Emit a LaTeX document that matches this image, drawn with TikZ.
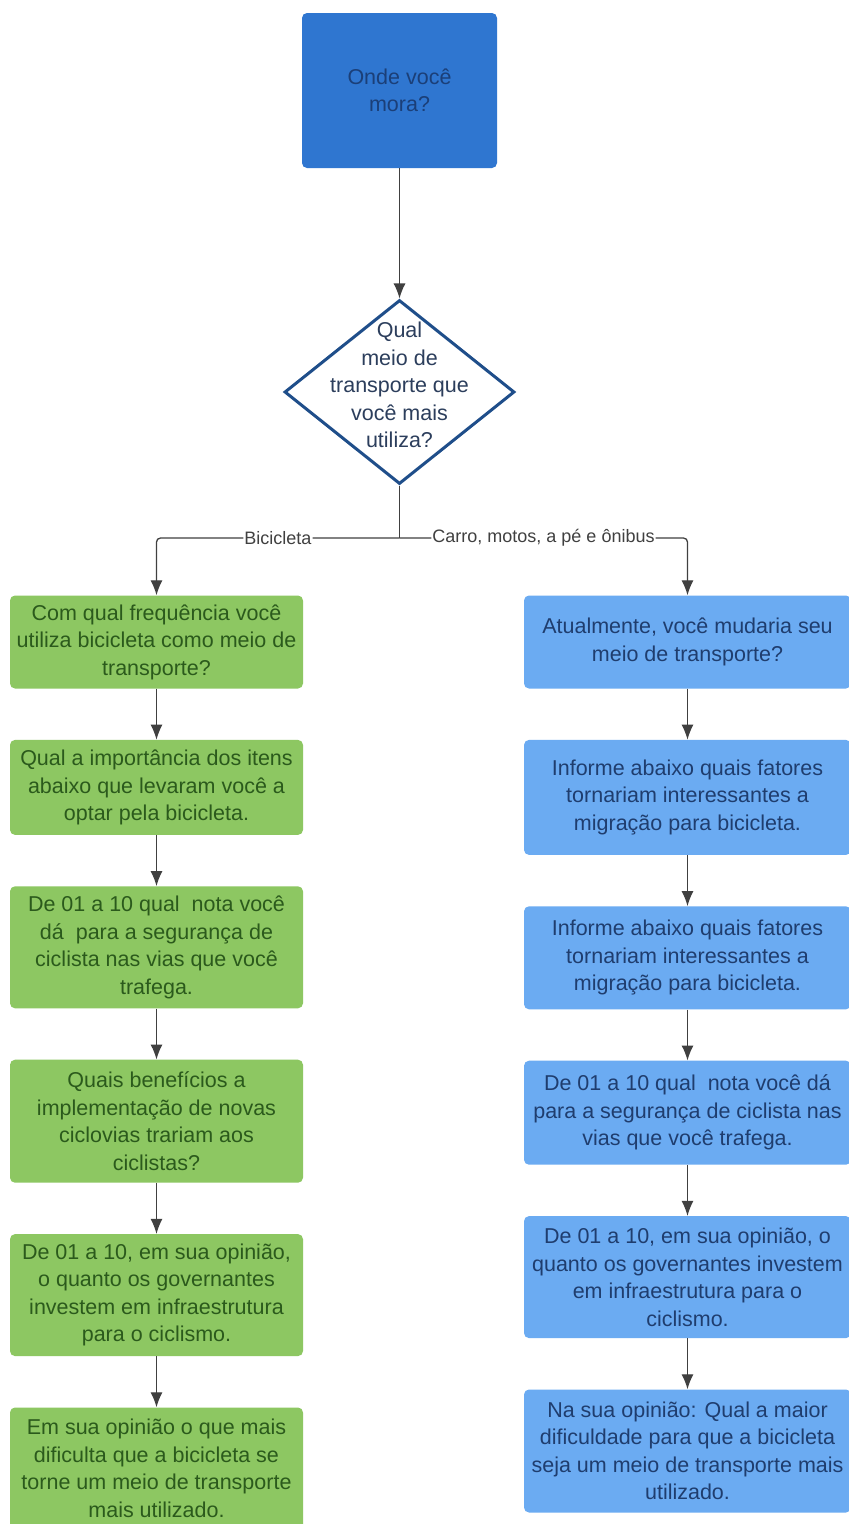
\documentclass[tikz,border=0pt]{standalone}
\usepackage{fontspec}
\setmainfont{Liberation Sans}
\usetikzlibrary{arrows.meta,positioning,shapes.geometric}
\definecolor{topBlue}{HTML}{2F76D0}
\definecolor{topText}{HTML}{1B3F78}
\definecolor{rhombBlue}{HTML}{1F4E8A}
\definecolor{rhombText}{HTML}{2C3E5C}
\definecolor{qGreen}{HTML}{8DC762}
\definecolor{qGreenText}{HTML}{2B5A1C}
\definecolor{qBlue}{HTML}{6BABF2}
\definecolor{qBlueText}{HTML}{1F3D6E}
\definecolor{lineGray}{HTML}{404040}

\begin{document}
\begin{tikzpicture}[
      x=1pt, y=1pt,
      node distance=51pt,
      box/.style={rectangle, rounded corners=5pt, align=center, inner sep=2pt,
                  font=\fontsize{21.5}{27.5}\selectfont},
      start/.style={box, fill=topBlue, text=topText, minimum width=195pt, minimum height=155pt},
      decision/.style={diamond, draw=rhombBlue, line width=3pt, fill=white,
                       minimum width=230pt, minimum height=184pt, inner sep=0pt},
      bike/.style={box, fill=qGreen, text=qGreenText, minimum width=293pt},
      other/.style={box, fill=qBlue, text=qBlueText, minimum width=327pt},
      lbl/.style={fill=white, text=lineGray, font=\fontsize{18}{20}\selectfont, inner sep=1pt},
      link/.style={lineGray, line width=1.3pt},
      >={Latex[width=12pt,length=15pt]}
    ]
    \path[use as bounding box, fill=white] (0,0) rectangle (849,-1524);

    \node[start] (home) at (399.5,-90.5) {Onde você\\mora?};
    \node[decision] (q) at (399.5,-392) {};
    \node[align=center, text=rhombText, font=\fontsize{21.5}{27.5}\selectfont] (qtxt) at ([yshift=7pt]q.center) {Qual\\meio de\\transporte que\\você mais\\utiliza?};
    \coordinate (split) at (399.5,-538);

    \node[bike, minimum height=93pt] (b1) at (156.5,-642) {Com qual frequência você\\utiliza bicicleta como meio de\\transporte?};
    \node[bike, minimum height=95pt, below=of b1] (b2) {Qual a importância dos itens\\abaixo que levaram você a\\optar pela bicicleta.};
    \node[bike, minimum height=122pt, below=of b2] (b3) {De 01 a 10 qual~ nota você\\dá~ para a segurança de\\ciclista nas vias que você\\trafega.};
    \node[bike, minimum height=123pt, below=of b3] (b4) {Quais benefícios a\\implementação de novas\\ciclovias trariam aos\\ciclistas?};
    \node[bike, minimum height=122pt, below=of b4] (b5) {De 01 a 10, em sua opinião,\\o quanto os governantes\\investem em infraestrutura\\para o ciclismo.};
    \node[bike, minimum height=122pt, below=of b5] (b6) {Em sua opinião o que mais\\dificulta que a bicicleta se\\torne um meio de transporte\\mais utilizado.};

    \node[other, minimum height=93pt] (o1) at (687.5,-642) {Atualmente, você mudaria seu\\meio de transporte?};
    \node[other, minimum height=115pt, below=of o1] (o2) {Informe abaixo quais fatores\\tornariam interessantes a\\migração para bicicleta.};
    \node[other, minimum height=103pt, below=of o2] (o3) {Informe abaixo quais fatores\\tornariam interessantes a\\migração para bicicleta.};
    \node[other, minimum height=104pt, below=of o3] (o4) {De 01 a 10 qual~ nota você dá\\para a segurança de ciclista nas\\vias que você trafega.};
    \node[other, minimum height=122pt, below=of o4] (o5) {De 01 a 10, em sua opinião, o\\quanto os governantes investem\\em infraestrutura para o\\ciclismo.};
    \node[other, minimum height=123pt, below=of o5] (o6) {Na sua opinião: Qual a maior\\dificuldade para que a bicicleta\\seja um meio de transporte mais\\utilizado.};

    \draw[->, link] (home) -- (q);
    \draw[link] (q) -- (split);
    \draw[->, link, rounded corners=4pt] (split) -| node[lbl, pos=0.25] (lblBike) {Bicicleta} (b1);
    \draw[->, link, rounded corners=4pt] (split) -| node[lbl, pos=0.25] (lblOther) {Carro, motos, a pé e ônibus} (o1);

    \draw[->, link] (b1) -- (b2);
    \draw[->, link] (b2) -- (b3);
    \draw[->, link] (b3) -- (b4);
    \draw[->, link] (b4) -- (b5);
    \draw[->, link] (b5) -- (b6);

    \draw[->, link] (o1) -- (o2);
    \draw[->, link] (o2) -- (o3);
    \draw[->, link] (o3) -- (o4);
    \draw[->, link] (o4) -- (o5);
    \draw[->, link] (o5) -- (o6);
  \end{tikzpicture}
\end{document}
